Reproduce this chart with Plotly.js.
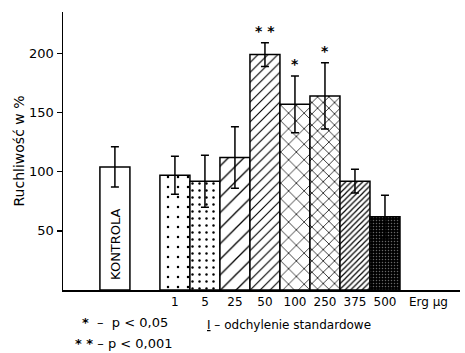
<!DOCTYPE html>
<html>
<head>
<meta charset="utf-8">
<script src="https://cdn.plot.ly/plotly-3.0.1.min.js"></script>
<style>html,body{margin:0;padding:0;background:#fff;}#chart{width:465px;height:353px;}</style>
</head>
<body>
<div id="chart"></div>
<script>
// Data
const categories = ['KONTROLA', '1', '5', '25', '50', '100', '250', '375', '500'];
const values = [104, 97, 92, 112, 199, 157, 164, 92, 62];
const errors = [17, 16, 22, 26, 10, 24, 28, 10, 18];
const stars = ['', '', '', '', '* *', '*', '*', '', ''];
const unitLabel = 'Erg µg';
const yTicks = [50, 100, 150, 200];

// Styles
const patShape = ['', '.', '.', '/', '/', 'x', 'x', '/', '.'];
const patSize = [8, 10, 7, 11, 7, 11, 8, 4, 3];
const patSolid = [0.2, 0.05, 0.1, 0.12, 0.16, 0.13, 0.18, 0.3, 0.2];
const patBg = ['#fff', '#fff', '#fff', '#fff', '#fff', '#fff', '#fff', '#fff', '#000'];
const patFg = ['#000', '#000', '#000', '#000', '#000', '#000', '#000', '#000', '#666'];

// control at 0, one empty slot, then doses
const xpos = categories.map((c, i) => i === 0 ? 0 : i + 1);

const trace = {
  type: 'bar',
  x: xpos,
  y: values,
  width: 1,
  marker: {
    color: '#fff',
    line: {color: '#000', width: 1.5},
    pattern: {shape: patShape, size: patSize, solidity: patSolid, bgcolor: patBg, fgcolor: patFg, fillmode: 'replace'}
  },
  error_y: {type: 'data', array: errors, visible: true, color: '#000', thickness: 1.5, width: 4},
  hoverinfo: 'none'
};

const FAM = 'DejaVu Sans, Verdana, sans-serif';
const annotations = [];
// stars
stars.forEach((s, i) => {
  if (s) annotations.push({x: xpos[i], y: values[i] + errors[i], xref: 'x', yref: 'y', text: '<b>' + s + '</b>',
    showarrow: false, yanchor: 'bottom', yshift: 2, font: {family: FAM, size: 14, color: '#000'}});
});
// KONTROLA label inside bar
annotations.push({x: xpos[0], y: 0, xref: 'x', yref: 'y', text: categories[0], textangle: -90,
  showarrow: false, yanchor: 'bottom', yshift: 8, font: {family: FAM, size: 13, color: '#000'}});
// legend texts
const F = {family: FAM, size: 13, color: '#000'};
annotations.push({xref: 'paper', yref: 'paper', x: (80 - 63) / 397, y: (290 - 322) / 278, xanchor: 'left', yanchor: 'middle',
  text: '<b>*</b>  –  p &lt; 0,05', showarrow: false, font: F});
annotations.push({xref: 'paper', yref: 'paper', x: (73 - 63) / 397, y: (290 - 343) / 278, xanchor: 'left', yanchor: 'middle',
  text: '<b>* *</b> – p &lt; 0,001', showarrow: false, font: F});
annotations.push({xref: 'paper', yref: 'paper', x: (205 - 63) / 397, y: (290 - 325) / 278, xanchor: 'left', yanchor: 'middle',
  text: '<u>I</u> – odchylenie standardowe', showarrow: false, font: {family: FAM, size: 12, color: '#000'}});

const layout = {
  width: 465, height: 353,
  margin: {l: 63, r: 5, t: 12, b: 63},
  paper_bgcolor: '#fff', plot_bgcolor: '#fff',
  font: {family: FAM, size: 13, color: '#000'},
  showlegend: false,
  xaxis: {
    range: [-1.73, 11.5],
    tickvals: xpos.slice(1).concat([10.45]),
    ticktext: categories.slice(1).concat([unitLabel]),
    ticks: '', showgrid: false, zeroline: false,
    showline: true, linecolor: '#000', linewidth: 1.5,
    tickfont: {size: 12}
  },
  yaxis: {
    range: [0, 235],
    tickvals: yTicks,
    ticks: 'outside', ticklen: 5, tickwidth: 1.5, tickcolor: '#000',
    showgrid: false, zeroline: false,
    showline: true, linecolor: '#000', linewidth: 1.5,
    title: {text: 'Ruchliwość w %', font: {size: 14}, standoff: 1},
    tickfont: {size: 13}
  },
  bargap: 0,
  annotations: annotations
};

Plotly.newPlot('chart', [trace], layout, {staticPlot: true, displayModeBar: false});
</script>
</body>
</html>
